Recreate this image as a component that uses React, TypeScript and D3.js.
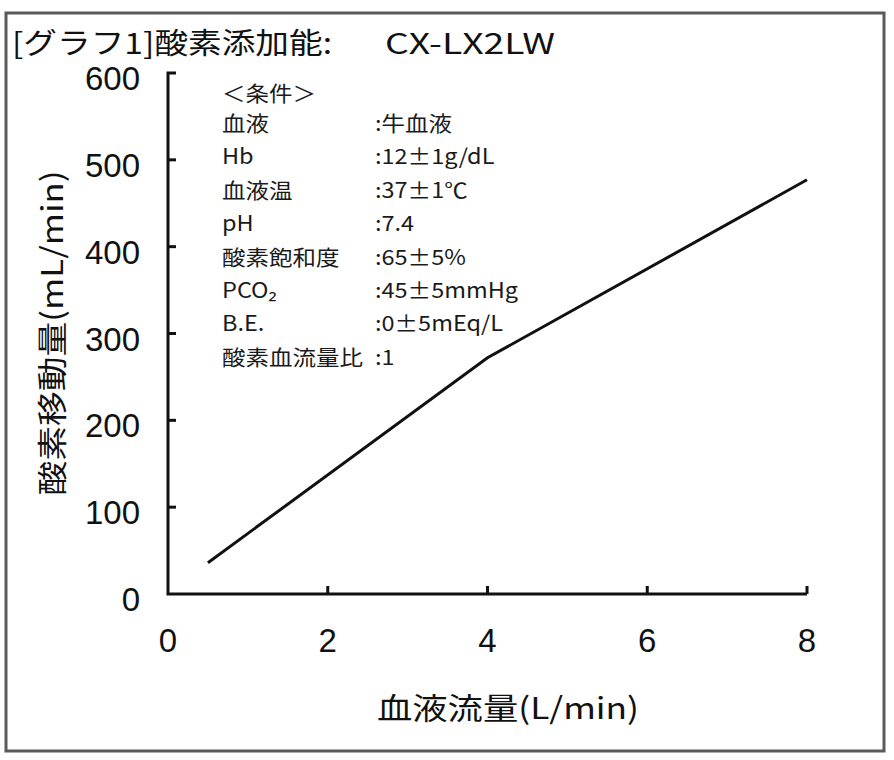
import React from "react";
import * as d3 from "d3";

const flowValues = [0.5, 4, 8];
const oxygenValues = [36, 272, 477];
const xTicks = [0, 2, 4, 6, 8];
const yTicks = [0, 100, 200, 300, 400, 500, 600];
const condLabels = ["血液", "Hb", "血液温", "pH", "酸素飽和度", "PCO₂", "B.E.", "酸素血流量比"];
const condValues = [":牛血液", ":12±1g/dL", ":37±1℃", ":7.4", ":65±5%", ":45±5mmHg", ":0±5mEq/L", ":1"];
const condHeader = "＜条件＞";
const titleMain = "[グラフ1]酸素添加能:";
const titleModel = "CX-LX2LW";
const xTitle = "血液流量(L/min)";
const yTitle = "酸素移動量(mL/min)";

const FONT = "'Noto Sans CJK JP', 'Noto Sans', sans-serif";
const NUMFONT = "'Liberation Sans', Arial, sans-serif";

export default function App() {
  const W = 894, H = 760;
  const x = d3.scaleLinear().domain([0, 8]).range([168, 807]);
  const y = d3.scaleLinear().domain([0, 600]).range([594, 73]);
  const line = d3.line<number>().x((d, i) => x(flowValues[i])).y((d) => y(d));
  const rowY = (i: number) => 123 + i * 33.4;

  return (
    <svg width={W} height={H} style={{ position: "absolute", left: 0, top: 0, background: "#fff" }} fontFamily={FONT}>
      <rect x={0} y={0} width={W} height={H} fill="#fff" />
      <rect x={6} y={13} width={878} height={738} fill="none" stroke="#5a5a5a" strokeWidth={3} />
      <text x={12} y={54} fontSize={29} fill="#111" textLength={320} lengthAdjust="spacingAndGlyphs">{titleMain}</text>
      <text x={385} y={54} fontSize={29} fill="#111" textLength={170} lengthAdjust="spacingAndGlyphs">{titleModel}</text>

      {/* axes */}
      <path d={`M${x(0) + 8},${y(600)}H${x(0)}V${y(0)}H${x(8)}`} fill="none" stroke="#111" strokeWidth={3} strokeLinejoin="miter" />
      {yTicks.filter((t) => t !== 0 && t !== 600).map((t) => (
        <line key={"yt" + t} x1={x(0)} x2={x(0) + 8} y1={y(t)} y2={y(t)} stroke="#111" strokeWidth={3} />
      ))}
      {xTicks.filter((t) => t !== 0).map((t) => (
        <line key={"xt" + t} x1={x(t)} x2={x(t)} y1={y(0)} y2={y(0) - 8} stroke="#111" strokeWidth={3} />
      ))}
      {yTicks.map((t) => (
        <text key={"yl" + t} x={140} y={y(t) + 17} fontSize={33} fontFamily={NUMFONT} textAnchor="end" fill="#111">{t}</text>
      ))}
      {xTicks.map((t) => (
        <text key={"xl" + t} x={x(t)} y={652} fontSize={33} fontFamily={NUMFONT} textAnchor="middle" fill="#111">{t}</text>
      ))}

      <text x={508} y={719} fontSize={30} textAnchor="middle" fill="#111" textLength={262} lengthAdjust="spacingAndGlyphs">{xTitle}</text>
      <text transform={`translate(63,333) rotate(-90)`} fontSize={30} textAnchor="middle" fill="#111" textLength={325} lengthAdjust="spacingAndGlyphs">{yTitle}</text>

      {/* conditions */}
      <text transform={`translate(222,101) scale(1.12,1)`} fontSize={21} fill="#1a1a1a">{condHeader}</text>
      {condLabels.map((l, i) => (
        <text key={"cl" + i} transform={`translate(222,${rowY(i) + 8}) scale(1.12,1)`} fontSize={21} fill="#1a1a1a">{l}</text>
      ))}
      {condValues.map((v, i) => (
        <text key={"cv" + i} transform={`translate(375,${rowY(i) + 8}) scale(1.12,1)`} fontSize={21} fill="#1a1a1a">{v}</text>
      ))}

      <path d={line(oxygenValues) || ""} fill="none" stroke="#111" strokeWidth={3} />
    </svg>
  );
}
